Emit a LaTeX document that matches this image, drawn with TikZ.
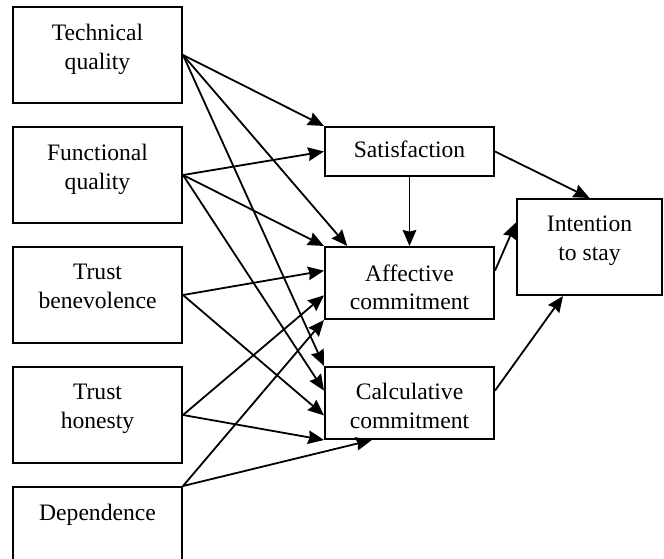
\documentclass[tikz,border=0pt]{standalone}
\usepackage{fontspec}
\setmainfont{Liberation Serif}
\usetikzlibrary{arrows.meta,calc}

\begin{document}
\begin{tikzpicture}[x=0.5pt,y=-0.5pt,line width=0.9pt,
    >={Stealth[length=8pt,width=6.8pt,inset=0.8pt]},
    every node/.style={font=\fontsize{11.8pt}{14.2pt}\selectfont}]
      \tikzstyle{box}=[draw, line width=1pt, inner sep=0pt, minimum width=84.5pt]
      \tikzstyle{srcbox}=[box, minimum height=48pt]
      \tikzstyle{txt}=[anchor=north, inner sep=0pt, align=center]
      \useasboundingbox (0,0) rectangle (664,558);
      \clip (0,0) rectangle (664,558);
      \node[srcbox] (tq) at (97.5,55) {};
      \node[srcbox] (fq) at (97.5,175) {};
      \node[srcbox] (tb) at (97.5,295) {};
      \node[srcbox] (th) at (97.5,415) {};
      \node[srcbox] (dep) at (97.5,535) {};
      \node[box, minimum height=24.5pt] (sat) at (409.5,151.5) {};
      \node[box, minimum height=36pt] (aff) at (409.5,283) {};
      \node[box, minimum height=36pt] (cal) at (409.5,403) {};
      \node[box, minimum width=72.5pt, minimum height=48pt] (its) at (589.5,247) {};
      \node[txt] (tqt) at ([yshift=-8.8pt]tq.north) {Technical\\quality};
      \node[txt] (fqt) at ([yshift=-8.8pt]fq.north) {Functional\\quality};
      \node[txt] (tbt) at ([yshift=-8.8pt]tb.north) {Trust\\benevolence};
      \node[txt] (tht) at ([yshift=-8.8pt]th.north) {Trust\\honesty};
      \node[txt] (dept) at ([yshift=-8.8pt]dep.north) {Dependence};
      \node[txt] (satt) at ([yshift=-7.2pt]sat.north) {Satisfaction};
      \node[txt] (afft) at ([yshift=-8.8pt]aff.north) {Affective\\commitment};
      \node[txt] (calt) at ([yshift=-8.2pt]cal.north) {Calculative\\commitment};
      \node[txt] (itst) at ([yshift=-8.6pt]its.north) {Intention\\to stay};
      \coordinate (aff-n) at ($(aff.north west)!0.136!(aff.north east)$);
      \coordinate (aff-w1) at ($(aff.north west)!0.333!(aff.south west)$);
      \coordinate (aff-w2) at ($(aff.north west)!0.667!(aff.south west)$);
      \coordinate (aff-e) at ($(aff.north east)!0.333!(aff.south east)$);
      \coordinate (cal-w1) at ($(cal.north west)!0.333!(cal.south west)$);
      \coordinate (cal-w2) at ($(cal.north west)!0.667!(cal.south west)$);
      \coordinate (cal-s) at ($(cal.south west)!0.28!(cal.south east)$);
      \coordinate (cal-e) at ($(cal.north east)!0.333!(cal.south east)$);
      \coordinate (its-w) at ($(its.north west)!0.25!(its.south west)$);
      \coordinate (its-s) at ($(its.south west)!0.32!(its.south east)$);
      \draw [->] (tq.east) -- (sat.north west);
      \draw [->] (tq.east) -- (aff-n);
      \draw [->] (tq.east) -- (cal.north west);
      \draw [->] (fq.east) -- (sat.west);
      \draw [->] (fq.east) -- (aff.north west);
      \draw [->] (fq.east) -- (cal-w1);
      \draw [->] (tb.east) -- (aff-w1);
      \draw [->] (tb.east) -- (cal-w2);
      \draw [->] (th.east) -- (aff-w2);
      \draw [->] (th.east) -- (cal.south west);
      \draw [->] (dep.north east) -- (aff.south west);
      \draw [->] (dep.north east) -- (cal-s);
      \draw [->] (sat.south) -- (aff.north);
      \draw [->] (sat.east) -- (its.north);
      \draw [->] (aff-e) -- (its-w);
      \draw [->] (cal-e) -- (its-s);
    \end{tikzpicture}
\end{document}
